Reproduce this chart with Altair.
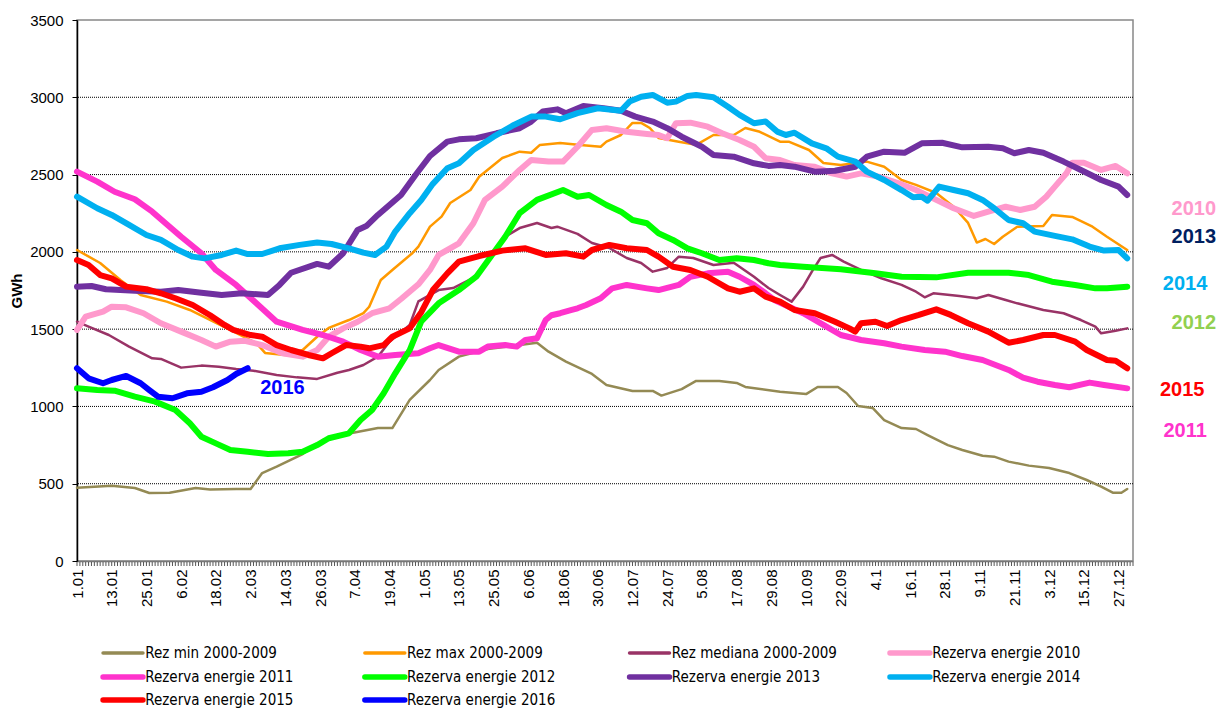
import json
import altair as alt
import pandas as pd

series_names = ["Rez min 2000-2009", "Rez max 2000-2009", "Rez mediana 2000-2009",
                "Rezerva energie 2010", "Rezerva energie 2011", "Rezerva energie 2012",
                "Rezerva energie 2013", "Rezerva energie 2014", "Rezerva energie 2015",
                "Rezerva energie 2016"]
series_colors = ["#948A54", "#FF9900", "#993366", "#FF99CC", "#FF33CC", "#00FF00",
                 "#7030A0", "#00B0F0", "#FF0000", "#0000FF"]
series_widths = [2.5, 2.5, 2.5, 6, 6, 6, 6, 6, 6, 6]
legend_widths = [3.5, 3.5, 3.5, 5.5, 5.5, 5.5, 5.5, 5.5, 5.5, 5.5]

x_labels = ["1.01", "13.01", "25.01", "6.02", "18.02", "2.03", "14.03", "26.03", "7.04",
            "19.04", "1.05", "13.05", "25.05", "6.06", "18.06", "30.06", "12.07", "24.07",
            "5.08", "17.08", "29.08", "10.09", "22.09", "4.1", "16.1", "28.1", "9.11",
            "21.11", "3.12", "15.12", "27.12"]
x_label_days = [12 * i for i in range(len(x_labels))]
tick_days = list(range(0, 366))
y_ticks = [0, 500, 1000, 1500, 2000, 2500, 3000, 3500]
grid_values = [500, 1000, 1500, 2000, 2500, 3000]

min_days = [0,12,20,25,32,41,46,55,60,64,69,78,85,95,104,109,115,122,125,132,142,153,159,163,169,178,183,192,199,202,209,214,222,228,231,243,252,256,263,266,270,275,279,285,290,294,301,306,313,317,322,329,336,343,349,354,358,361,363]
min_vals = [474,487,472,440,441,472,463,466,466,569,610,692,783,828,860,860,1042,1171,1236,1322,1371,1397,1412,1354,1290,1210,1139,1100,1100,1070,1112,1165,1165,1152,1126,1095,1080,1126,1126,1087,1003,990,912,860,854,815,750,718,681,675,643,617,602,569,524,481,442,442,466]

max_days = [0,8,15,22,31,39,47,55,62,65,72,78,83,87,94,99,101,105,109,116,118,122,126,129,136,139,147,153,157,160,167,174,181,183,188,192,195,198,201,208,214,220,227,231,236,243,246,253,258,264,273,279,285,290,297,303,308,311,314,317,320,325,334,337,344,351,356,363]
max_vals = [2012,1928,1818,1721,1678,1624,1550,1475,1410,1346,1333,1365,1451,1508,1559,1604,1645,1818,1883,1993,2034,2163,2228,2316,2400,2486,2607,2648,2641,2692,2704,2692,2680,2713,2756,2834,2834,2801,2737,2713,2692,2756,2756,2801,2777,2713,2713,2659,2575,2562,2584,2551,2465,2433,2381,2292,2187,2060,2083,2051,2098,2163,2167,2239,2226,2163,2098,2012]

med_days = [0,4,11,18,26,29,36,43,49,55,61,69,76,83,90,94,99,104,108,115,118,125,130,137,143,148,153,159,164,166,173,178,184,190,195,199,204,208,213,220,227,234,239,243,247,251,254,257,261,265,271,278,285,290,293,296,305,311,315,321,325,334,341,347,352,354,359,363]
med_vals = [1548,1516,1462,1387,1311,1307,1251,1264,1257,1242,1231,1203,1188,1178,1218,1236,1268,1322,1419,1527,1680,1753,1766,1831,1969,2098,2154,2187,2154,2163,2116,2057,2025,1960,1928,1872,1896,1969,1960,1915,1930,1839,1766,1721,1678,1775,1872,1960,1980,1937,1883,1829,1786,1742,1706,1732,1714,1700,1721,1689,1667,1624,1603,1559,1516,1473,1490,1505]

y2010_days = [0,3,9,12,17,23,29,36,43,48,53,58,64,71,78,83,87,92,97,102,108,112,118,122,125,132,137,141,147,153,157,163,168,173,178,183,190,197,201,204,207,212,218,223,229,234,238,243,248,255,261,266,271,277,284,290,297,303,310,315,321,326,331,335,338,342,344,348,354,359,363]
y2010_vals = [1495,1581,1613,1645,1641,1603,1538,1484,1430,1387,1419,1425,1397,1344,1322,1365,1451,1505,1548,1603,1635,1695,1790,1883,1980,2055,2185,2336,2422,2530,2594,2584,2584,2680,2789,2800,2777,2763,2756,2735,2832,2836,2810,2767,2724,2680,2606,2594,2562,2551,2508,2487,2508,2487,2444,2400,2336,2282,2232,2260,2292,2271,2292,2357,2422,2508,2577,2577,2530,2556,2508]

y2011_days = [0,7,13,20,26,32,36,43,48,55,62,69,78,85,92,98,104,110,118,122,125,132,139,142,148,152,155,159,162,164,167,171,173,176,181,185,190,197,201,208,212,218,225,229,234,238,241,251,258,264,271,279,285,293,300,306,313,322,327,332,338,343,350,355,363]
y2011_vals = [2519,2454,2389,2340,2260,2163,2098,1991,1883,1786,1667,1548,1495,1462,1419,1365,1322,1333,1344,1376,1397,1354,1354,1387,1397,1387,1430,1441,1559,1590,1603,1624,1635,1656,1700,1764,1786,1764,1753,1786,1839,1861,1872,1839,1786,1732,1689,1603,1527,1462,1430,1409,1387,1365,1354,1326,1300,1236,1186,1160,1139,1124,1154,1139,1117]

y2012_days = [0,7,13,20,27,34,39,43,48,53,59,66,73,78,83,87,94,98,102,106,110,115,119,125,132,138,143,148,153,159,168,173,177,183,188,192,197,201,206,211,216,222,228,234,239,243,251,264,276,285,297,308,322,329,337,345,352,356,363]
y2012_vals = [1117,1106,1102,1063,1031,977,891,804,761,718,707,692,697,707,750,794,826,912,977,1085,1214,1365,1550,1667,1753,1839,1969,2098,2250,2336,2400,2357,2368,2303,2260,2206,2185,2120,2077,2023,1991,1947,1958,1947,1926,1915,1904,1887,1861,1839,1835,1865,1865,1850,1807,1786,1764,1764,1775]

y2013_days = [0,5,10,20,29,35,43,50,57,66,70,74,83,87,92,97,100,104,108,112,117,122,128,132,138,145,153,157,161,166,169,175,182,188,193,199,204,209,216,220,227,234,239,243,248,255,262,269,273,279,286,292,299,306,315,320,324,329,334,341,347,354,360,363]
y2013_vals = [1775,1779,1758,1749,1742,1753,1736,1721,1732,1721,1786,1865,1922,1904,1991,2142,2167,2239,2303,2368,2497,2620,2713,2728,2735,2767,2800,2843,2908,2922,2897,2944,2929,2913,2875,2843,2800,2745,2680,2627,2616,2573,2556,2562,2551,2519,2525,2551,2616,2648,2641,2702,2706,2676,2680,2670,2638,2659,2641,2584,2530,2465,2422,2368]

y2014_days = [0,7,12,18,24,29,35,40,44,50,55,59,64,70,77,83,88,94,99,103,107,110,115,119,123,128,132,137,144,151,157,162,167,173,180,188,191,195,199,204,207,211,214,220,225,229,234,238,242,245,248,254,259,263,269,273,279,285,289,292,294,298,303,308,313,317,322,327,331,338,344,350,355,360,363]
y2014_vals = [2357,2282,2239,2174,2109,2077,2012,1969,1958,1980,2008,1986,1986,2023,2045,2060,2051,2023,1995,1980,2034,2131,2250,2336,2440,2541,2573,2659,2745,2821,2875,2875,2858,2897,2929,2913,2972,3004,3015,2965,2972,3009,3015,3000,2939,2886,2832,2843,2778,2756,2771,2702,2670,2616,2584,2519,2465,2400,2353,2357,2331,2422,2400,2379,2336,2282,2206,2185,2131,2103,2081,2034,2008,2012,1958]

y2015_days = [0,4,8,12,17,24,29,34,40,46,51,54,60,64,69,74,80,85,88,93,98,101,106,109,115,119,123,128,132,139,147,155,162,169,175,178,184,190,197,201,206,212,218,225,229,234,238,243,248,255,262,267,269,271,276,280,285,291,297,302,308,315,322,327,334,338,345,349,356,359,363]
y2015_vals = [1947,1915,1850,1829,1775,1758,1732,1700,1656,1590,1527,1495,1462,1451,1397,1365,1333,1311,1344,1397,1387,1376,1397,1451,1505,1610,1753,1861,1937,1973,2008,2023,1980,1991,1969,2012,2045,2023,2012,1969,1904,1883,1839,1764,1742,1764,1710,1678,1624,1603,1548,1505,1484,1538,1548,1520,1559,1592,1628,1592,1538,1484,1412,1430,1462,1462,1419,1365,1300,1296,1247]

y2016_days = [0,4,9,12,17,22,25,28,33,38,43,47,52,55,59]
y2016_vals = [1247,1182,1150,1171,1197,1150,1106,1063,1053,1085,1095,1124,1171,1210,1247]

ann_text = ["2010", "2013", "2014", "2012", "2015", "2011", "2016"]
ann_day = [386, 386, 383, 386, 382, 383, 71]
ann_val = [2277, 2096, 1792, 1540, 1106, 841, 1119]
ann_color = ["#FF99CC", "#002060", "#00B0F0", "#92D050", "#FF0000", "#FF33CC", "#0000FF"]

# legend grid (4 columns x 3 rows), placed below the axis in data units
legend_col_day = [9.0, 99.5, 191.0, 281.0]
legend_row_gwh = [-595, -750, -899]
legend_symbol_days = 13.8
legend_label_gap = 0.8

all_days = [min_days, max_days, med_days, y2010_days, y2011_days, y2012_days,
            y2013_days, y2014_days, y2015_days, y2016_days]
all_vals = [min_vals, max_vals, med_vals, y2010_vals, y2011_vals, y2012_vals,
            y2013_vals, y2014_vals, y2015_vals, y2016_vals]

AX_FONT = "Liberation Sans"
LEG_FONT = "DejaVu Sans Condensed"

x_scale = alt.Scale(domain=[0, 365], nice=False, zero=False)
y_scale = alt.Scale(domain=[0, 3500], nice=False)
color_scale = alt.Scale(domain=series_names, range=series_colors)

label_expr = json.dumps(x_labels) + "[round(datum.value / 12)]"

x_axis = alt.Axis(values=x_label_days, labelExpr=label_expr, labelAngle=270,
                  labelOverlap=False, labelFlush=False, labelBound=False,
                  labelFont=AX_FONT, labelFontSize=15, labelColor="black",
                  labelPadding=8, ticks=False,
                  domainColor="#777", domainWidth=1.5, grid=False, title=None)
y_axis = alt.Axis(values=y_ticks, format="d", labelFont=AX_FONT, labelFontSize=15,
                  labelColor="black", labelPadding=9, tickSize=5, tickColor="black",
                  domainColor="black", domainWidth=1.5, grid=False, title="GWh",
                  titleFont=AX_FONT, titleFontSize=15, titleFontWeight="bold",
                  titleColor="black", titlePadding=5)

X = lambda f: alt.X(f, scale=x_scale, axis=x_axis)
Y = lambda f: alt.Y(f, scale=y_scale, axis=y_axis)
C = alt.Color("series:N", scale=color_scale, legend=None)

layers = []
layers.append(
    alt.Chart(pd.DataFrame({"gwh": grid_values})).mark_rule(
        color="black", strokeDash=[1, 1], strokeWidth=1
    ).encode(y=Y("gwh:Q"))
)
layers.append(
    alt.Chart(pd.DataFrame({"day": tick_days})).mark_rule(
        color="#555", strokeWidth=1
    ).encode(x=X("day:Q"), y=alt.value(542), y2=alt.value(546))
)
for name, ds, vs, w in zip(series_names, all_days, all_vals, series_widths):
    sdf = pd.DataFrame({"series": name, "day": ds, "gwh": vs})
    layers.append(
        alt.Chart(sdf).mark_line(strokeWidth=w, strokeCap="round", strokeJoin="round").encode(
            x=X("day:Q"), y=Y("gwh:Q"), color=C, order=alt.Order("day:Q"),
        )
    )
for t, d, v, c in zip(ann_text, ann_day, ann_val, ann_color):
    layers.append(
        alt.Chart(pd.DataFrame({"t": [t], "day": [d], "gwh": [v]})).mark_text(
            font=AX_FONT, fontSize=20, fontWeight="bold", color=c
        ).encode(x=X("day:Q"), y=Y("gwh:Q"), text="t:N")
    )

# legend
leg = pd.DataFrame({
    "series": series_names,
    "w": legend_widths,
    "day": [legend_col_day[i % 4] for i in range(len(series_names))],
    "gwh": [legend_row_gwh[i // 4] for i in range(len(series_names))],
})
leg["day2"] = leg["day"] + legend_symbol_days
leg["lday"] = leg["day2"] + legend_label_gap
layers.append(
    alt.Chart(leg).mark_rule(strokeCap="round").encode(
        x=X("day:Q"), x2="day2:Q", y=Y("gwh:Q"), color=C,
        strokeWidth=alt.StrokeWidth("w:Q", scale=None),
    )
)
layers.append(
    alt.Chart(leg).mark_text(align="left", baseline="middle", font=LEG_FONT,
                             fontSize=15, color="black").encode(
        x=X("lday:Q"), y=Y("gwh:Q"), text="series:N"
    )
)

chart = alt.layer(*layers).properties(
    width=1056, height=541,
    autosize=alt.AutoSizeParams(type="none"),
    padding={"left": 69, "top": 12, "right": 83, "bottom": 150},
    background="white",
).configure_view(stroke="#888888", strokeWidth=1.5)

chart.save("out.html", embed_options={"renderer": "svg", "actions": False})
